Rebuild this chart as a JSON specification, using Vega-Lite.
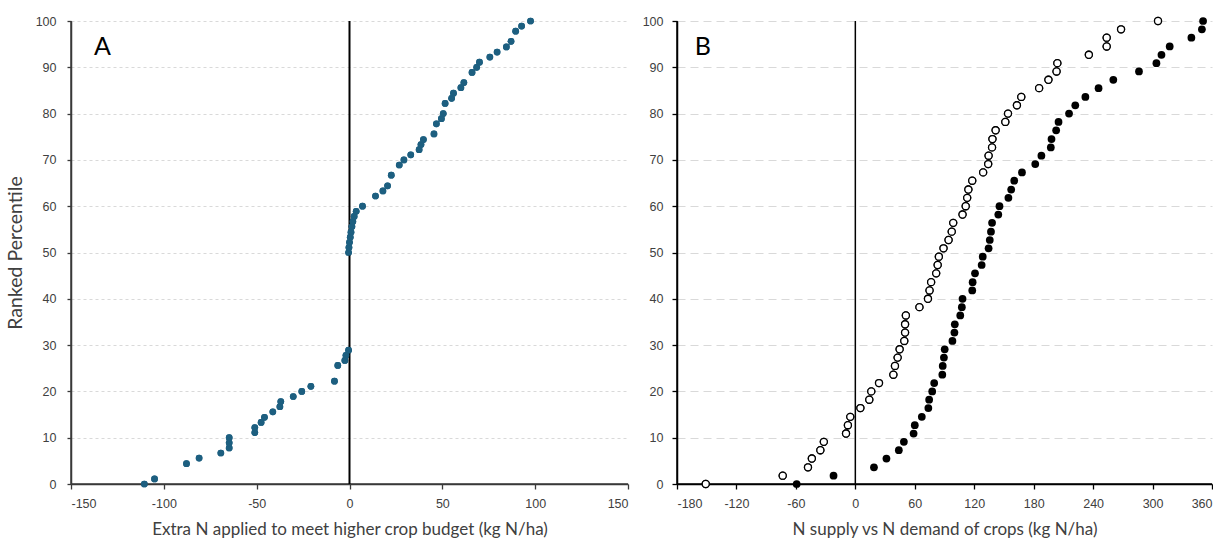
{
  "$schema": "https://vega.github.io/schema/vega-lite/v6.json",
  "background": "white",
  "padding": {"left": 5, "top": 14, "right": 0, "bottom": 0},
  "spacing": 49,
  "bounds": "flush",
  "config": {
    "view": {"stroke": null},
    "axis": {
      "labelFont": "Liberation Sans",
      "labelFontSize": 12.5,
      "labelColor": "#404040",
      "titleFont": "Lato",
      "titleFontSize": 17,
      "titleFontWeight": "normal",
      "titleColor": "#404040",
      "ticks": true,
      "tickSize": 5,
      "tickWidth": 1.3,
      "labelPadding": 8,
      "domain": true,
      "domainWidth": 1.5,
      "domainOpacity": 1
    }
  },
  "datasets": {
    "a": [
      {"extra_n": -110.5, "percentile": 0.0},
      {"extra_n": -105.0, "percentile": 1.1},
      {"extra_n": -87.8, "percentile": 4.4},
      {"extra_n": -81.0, "percentile": 5.6},
      {"extra_n": -69.3, "percentile": 6.7},
      {"extra_n": -64.8, "percentile": 7.8},
      {"extra_n": -64.8, "percentile": 8.9},
      {"extra_n": -64.8, "percentile": 10.0},
      {"extra_n": -51.0, "percentile": 11.1},
      {"extra_n": -51.0, "percentile": 12.2},
      {"extra_n": -47.6, "percentile": 13.3},
      {"extra_n": -45.8, "percentile": 14.4},
      {"extra_n": -41.3, "percentile": 15.6},
      {"extra_n": -37.5, "percentile": 16.7},
      {"extra_n": -37.0, "percentile": 17.8},
      {"extra_n": -30.3, "percentile": 18.9},
      {"extra_n": -25.7, "percentile": 20.0},
      {"extra_n": -20.8, "percentile": 21.1},
      {"extra_n": -8.1, "percentile": 22.2},
      {"extra_n": -6.3, "percentile": 25.6},
      {"extra_n": -2.5, "percentile": 26.7},
      {"extra_n": -1.9, "percentile": 27.8},
      {"extra_n": -0.5, "percentile": 28.9},
      {"extra_n": -0.5, "percentile": 50.0},
      {"extra_n": -0.3, "percentile": 51.1},
      {"extra_n": 0.0, "percentile": 52.2},
      {"extra_n": 0.4, "percentile": 53.3},
      {"extra_n": 0.8, "percentile": 54.4},
      {"extra_n": 1.3, "percentile": 55.6},
      {"extra_n": 1.8, "percentile": 56.7},
      {"extra_n": 2.5, "percentile": 57.8},
      {"extra_n": 3.6, "percentile": 58.9},
      {"extra_n": 7.0, "percentile": 60.0},
      {"extra_n": 14.0, "percentile": 62.2},
      {"extra_n": 18.0, "percentile": 63.3},
      {"extra_n": 20.5, "percentile": 64.4},
      {"extra_n": 22.5, "percentile": 66.7},
      {"extra_n": 26.8, "percentile": 68.9},
      {"extra_n": 29.3, "percentile": 70.0},
      {"extra_n": 33.0, "percentile": 71.1},
      {"extra_n": 37.5, "percentile": 72.2},
      {"extra_n": 38.5, "percentile": 73.3},
      {"extra_n": 39.8, "percentile": 74.4},
      {"extra_n": 45.5, "percentile": 75.6},
      {"extra_n": 46.8, "percentile": 77.8},
      {"extra_n": 49.5, "percentile": 78.9},
      {"extra_n": 50.5, "percentile": 80.0},
      {"extra_n": 51.5, "percentile": 82.2},
      {"extra_n": 55.0, "percentile": 83.3},
      {"extra_n": 56.0, "percentile": 84.4},
      {"extra_n": 60.0, "percentile": 85.6},
      {"extra_n": 61.6, "percentile": 86.7},
      {"extra_n": 66.0, "percentile": 88.9},
      {"extra_n": 68.5, "percentile": 90.0},
      {"extra_n": 70.0, "percentile": 91.1},
      {"extra_n": 75.6, "percentile": 92.2},
      {"extra_n": 79.5, "percentile": 93.3},
      {"extra_n": 84.5, "percentile": 94.4},
      {"extra_n": 87.0, "percentile": 95.6},
      {"extra_n": 89.5, "percentile": 97.8},
      {"extra_n": 92.7, "percentile": 98.9},
      {"extra_n": 97.5, "percentile": 100.0}
    ],
    "b_open": [
      {"balance": -151.0, "percentile": 0.0},
      {"balance": -73.3, "percentile": 1.8},
      {"balance": -47.8, "percentile": 3.6},
      {"balance": -43.9, "percentile": 5.5},
      {"balance": -35.3, "percentile": 7.3},
      {"balance": -31.8, "percentile": 9.1},
      {"balance": -9.4, "percentile": 10.9},
      {"balance": -7.5, "percentile": 12.7},
      {"balance": -5.1, "percentile": 14.5},
      {"balance": 5.1, "percentile": 16.4},
      {"balance": 14.1, "percentile": 18.2},
      {"balance": 16.1, "percentile": 20.0},
      {"balance": 23.9, "percentile": 21.8},
      {"balance": 38.4, "percentile": 23.6},
      {"balance": 40.0, "percentile": 25.5},
      {"balance": 42.7, "percentile": 27.3},
      {"balance": 44.7, "percentile": 29.1},
      {"balance": 49.4, "percentile": 30.9},
      {"balance": 50.2, "percentile": 32.7},
      {"balance": 50.2, "percentile": 34.5},
      {"balance": 51.0, "percentile": 36.4},
      {"balance": 64.7, "percentile": 38.2},
      {"balance": 73.3, "percentile": 40.0},
      {"balance": 74.9, "percentile": 41.8},
      {"balance": 76.5, "percentile": 43.6},
      {"balance": 81.6, "percentile": 45.5},
      {"balance": 83.1, "percentile": 47.3},
      {"balance": 84.3, "percentile": 49.1},
      {"balance": 89.0, "percentile": 50.9},
      {"balance": 94.1, "percentile": 52.7},
      {"balance": 97.3, "percentile": 54.5},
      {"balance": 98.8, "percentile": 56.4},
      {"balance": 108.2, "percentile": 58.2},
      {"balance": 111.4, "percentile": 60.0},
      {"balance": 112.9, "percentile": 61.8},
      {"balance": 114.1, "percentile": 63.6},
      {"balance": 118.0, "percentile": 65.5},
      {"balance": 129.0, "percentile": 67.3},
      {"balance": 134.1, "percentile": 69.1},
      {"balance": 134.5, "percentile": 70.9},
      {"balance": 138.0, "percentile": 72.7},
      {"balance": 138.4, "percentile": 74.5},
      {"balance": 141.6, "percentile": 76.4},
      {"balance": 151.4, "percentile": 78.2},
      {"balance": 154.1, "percentile": 80.0},
      {"balance": 163.1, "percentile": 81.8},
      {"balance": 167.5, "percentile": 83.6},
      {"balance": 185.5, "percentile": 85.5},
      {"balance": 194.9, "percentile": 87.3},
      {"balance": 203.1, "percentile": 89.1},
      {"balance": 203.9, "percentile": 90.9},
      {"balance": 235.7, "percentile": 92.7},
      {"balance": 253.7, "percentile": 94.5},
      {"balance": 253.7, "percentile": 96.4},
      {"balance": 268.2, "percentile": 98.2},
      {"balance": 305.5, "percentile": 100.0}
    ],
    "b_filled": [
      {"balance": -59.2, "percentile": 0.0},
      {"balance": -22.0, "percentile": 1.8},
      {"balance": 18.8, "percentile": 3.6},
      {"balance": 31.4, "percentile": 5.5},
      {"balance": 43.9, "percentile": 7.3},
      {"balance": 49.0, "percentile": 9.1},
      {"balance": 58.8, "percentile": 10.9},
      {"balance": 60.0, "percentile": 12.7},
      {"balance": 67.1, "percentile": 14.5},
      {"balance": 73.7, "percentile": 16.4},
      {"balance": 74.5, "percentile": 18.2},
      {"balance": 77.6, "percentile": 20.0},
      {"balance": 79.6, "percentile": 21.8},
      {"balance": 87.8, "percentile": 23.6},
      {"balance": 88.2, "percentile": 25.5},
      {"balance": 89.4, "percentile": 27.3},
      {"balance": 90.2, "percentile": 29.1},
      {"balance": 98.0, "percentile": 30.9},
      {"balance": 100.0, "percentile": 32.7},
      {"balance": 100.4, "percentile": 34.5},
      {"balance": 105.9, "percentile": 36.4},
      {"balance": 107.5, "percentile": 38.2},
      {"balance": 108.2, "percentile": 40.0},
      {"balance": 118.0, "percentile": 41.8},
      {"balance": 118.4, "percentile": 43.6},
      {"balance": 120.8, "percentile": 45.5},
      {"balance": 127.5, "percentile": 47.3},
      {"balance": 128.6, "percentile": 49.1},
      {"balance": 134.5, "percentile": 50.9},
      {"balance": 135.7, "percentile": 52.7},
      {"balance": 136.9, "percentile": 54.5},
      {"balance": 138.0, "percentile": 56.4},
      {"balance": 144.3, "percentile": 58.2},
      {"balance": 145.5, "percentile": 60.0},
      {"balance": 154.5, "percentile": 61.8},
      {"balance": 157.3, "percentile": 63.6},
      {"balance": 160.4, "percentile": 65.5},
      {"balance": 168.2, "percentile": 67.3},
      {"balance": 181.6, "percentile": 69.1},
      {"balance": 187.8, "percentile": 70.9},
      {"balance": 197.3, "percentile": 72.7},
      {"balance": 198.0, "percentile": 74.5},
      {"balance": 202.7, "percentile": 76.4},
      {"balance": 205.1, "percentile": 78.2},
      {"balance": 215.7, "percentile": 80.0},
      {"balance": 222.0, "percentile": 81.8},
      {"balance": 232.2, "percentile": 83.6},
      {"balance": 245.5, "percentile": 85.5},
      {"balance": 260.4, "percentile": 87.3},
      {"balance": 286.3, "percentile": 89.1},
      {"balance": 303.9, "percentile": 90.9},
      {"balance": 309.0, "percentile": 92.7},
      {"balance": 317.3, "percentile": 94.5},
      {"balance": 339.2, "percentile": 96.4},
      {"balance": 349.8, "percentile": 98.2},
      {"balance": 351.0, "percentile": 100.0}
    ]
  },
  "hconcat": [
    {
      "width": 557,
      "height": 463,
      "layer": [
        {
          "data": {"name": "a"},
          "mark": {"type": "circle", "size": 45, "opacity": 1, "color": "#1D5F80"},
          "encoding": {
            "x": {
              "field": "extra_n", "type": "quantitative",
              "scale": {"domain": [-150, 150], "nice": false, "zero": false},
              "axis": {
                "title": "Extra N applied to meet higher crop budget (kg N/ha)",
                "values": [-150, -100, -50, 0, 50, 100, 150],
                "labelExpr": "toString(datum.value)",
                "grid": false,
                "domain": true,
                "domainColor": "#3a3a3a",
                "tickColor": "#3a3a3a",
                "titlePadding": 12
              }
            },
            "y": {
              "field": "percentile", "type": "quantitative",
              "scale": {"domain": [0, 100], "nice": false},
              "axis": {
                "title": "Ranked Percentile",
                "titleFontSize": 19.5,
                "values": [0, 10, 20, 30, 40, 50, 60, 70, 80, 90, 100],
                "grid": true,
                "gridColor": "#d9d9d9",
                "gridDash": [3, 3],
                "gridWidth": 1,
                "domain": true,
                "domainColor": "#3a3a3a",
                "tickColor": "#3a3a3a",
                "tickSize": 4,
                "labelPadding": 11,
                "titlePadding": 10
              }
            }
          }
        },
        {
          "data": {"values": [{}]},
          "mark": {"type": "rule", "color": "#3a3a3a", "strokeWidth": 1.5},
          "encoding": {
            "x": {"datum": -150, "type": "quantitative"},
            "y": {"datum": 0, "type": "quantitative"},
            "y2": {"datum": 100}
          }
        },
        {
          "data": {"values": [{}]},
          "mark": {"type": "rule", "color": "#3a3a3a", "strokeWidth": 1.5},
          "encoding": {
            "x": {"datum": -150, "type": "quantitative"},
            "x2": {"datum": 150},
            "y": {"datum": 0, "type": "quantitative"}
          }
        },
        {
          "data": {"values": [{}]},
          "mark": {"type": "rule", "color": "black", "strokeWidth": 2},
          "encoding": {
            "x": {"datum": 0, "type": "quantitative"},
            "y": {"datum": 0, "type": "quantitative"},
            "y2": {"datum": 100}
          }
        },
        {
          "data": {"name": "a"},
          "mark": {"type": "circle", "size": 45, "opacity": 1, "color": "#1D5F80"},
          "encoding": {
            "x": {"field": "extra_n", "type": "quantitative"},
            "y": {"field": "percentile", "type": "quantitative"}
          }
        },
        {
          "data": {"values": [{}]},
          "mark": {"type": "text", "font": "Lato", "fontSize": 25, "color": "black", "baseline": "middle", "align": "center"},
          "encoding": {
            "x": {"datum": -133, "type": "quantitative"},
            "y": {"datum": 94.4, "type": "quantitative"},
            "text": {"value": "A"}
          }
        }
      ]
    },
    {
      "width": 535,
      "height": 463,
      "layer": [
        {
          "data": {"name": "b_open"},
          "mark": {"type": "point", "shape": "circle", "size": 50, "filled": false, "stroke": "black", "strokeWidth": 1.3, "fill": "white", "fillOpacity": 1, "opacity": 1},
          "encoding": {
            "x": {
              "field": "balance", "type": "quantitative",
              "scale": {"domain": [-180, 360], "nice": false, "zero": false},
              "axis": {
                "title": "N supply vs N demand of crops (kg N/ha)",
                "values": [-180, -120, -60, 0, 60, 120, 180, 240, 300, 360],
                "labelExpr": "toString(datum.value)",
                "grid": false,
                "domain": true,
                "domainColor": "black",
                "tickColor": "black",
                "titlePadding": 12
              }
            },
            "y": {
              "field": "percentile", "type": "quantitative",
              "scale": {"domain": [0, 100], "nice": false},
              "axis": {
                "title": null,
                "values": [0, 10, 20, 30, 40, 50, 60, 70, 80, 90, 100],
                "grid": true,
                "gridColor": "#d9d9d9",
                "gridDash": [8, 5],
                "gridWidth": 1.2,
                "domain": true,
                "domainColor": "black",
                "tickColor": "black",
                "tickSize": 5,
                "labelPadding": 9
              }
            }
          }
        },
        {
          "data": {"values": [{}]},
          "mark": {"type": "rule", "color": "black", "strokeWidth": 1.5},
          "encoding": {
            "x": {"datum": -180, "type": "quantitative"},
            "y": {"datum": 0, "type": "quantitative"},
            "y2": {"datum": 100}
          }
        },
        {
          "data": {"values": [{}]},
          "mark": {"type": "rule", "color": "black", "strokeWidth": 1.5},
          "encoding": {
            "x": {"datum": -180, "type": "quantitative"},
            "x2": {"datum": 360},
            "y": {"datum": 0, "type": "quantitative"}
          }
        },
        {
          "data": {"values": [{}]},
          "mark": {"type": "rule", "color": "black", "strokeWidth": 1.5},
          "encoding": {
            "x": {"datum": 0, "type": "quantitative"},
            "y": {"datum": 0, "type": "quantitative"},
            "y2": {"datum": 100}
          }
        },
        {
          "data": {"name": "b_open"},
          "mark": {"type": "point", "shape": "circle", "size": 50, "filled": false, "stroke": "black", "strokeWidth": 1.3, "fill": "white", "fillOpacity": 1, "opacity": 1},
          "encoding": {
            "x": {"field": "balance", "type": "quantitative"},
            "y": {"field": "percentile", "type": "quantitative"}
          }
        },
        {
          "data": {"name": "b_filled"},
          "mark": {"type": "circle", "size": 60, "color": "black", "opacity": 1},
          "encoding": {
            "x": {"field": "balance", "type": "quantitative"},
            "y": {"field": "percentile", "type": "quantitative"}
          }
        },
        {
          "data": {"values": [{}]},
          "mark": {"type": "text", "font": "Lato", "fontSize": 25, "color": "black", "baseline": "middle", "align": "center"},
          "encoding": {
            "x": {"datum": -154, "type": "quantitative"},
            "y": {"datum": 94.4, "type": "quantitative"},
            "text": {"value": "B"}
          }
        }
      ]
    }
  ]
}
